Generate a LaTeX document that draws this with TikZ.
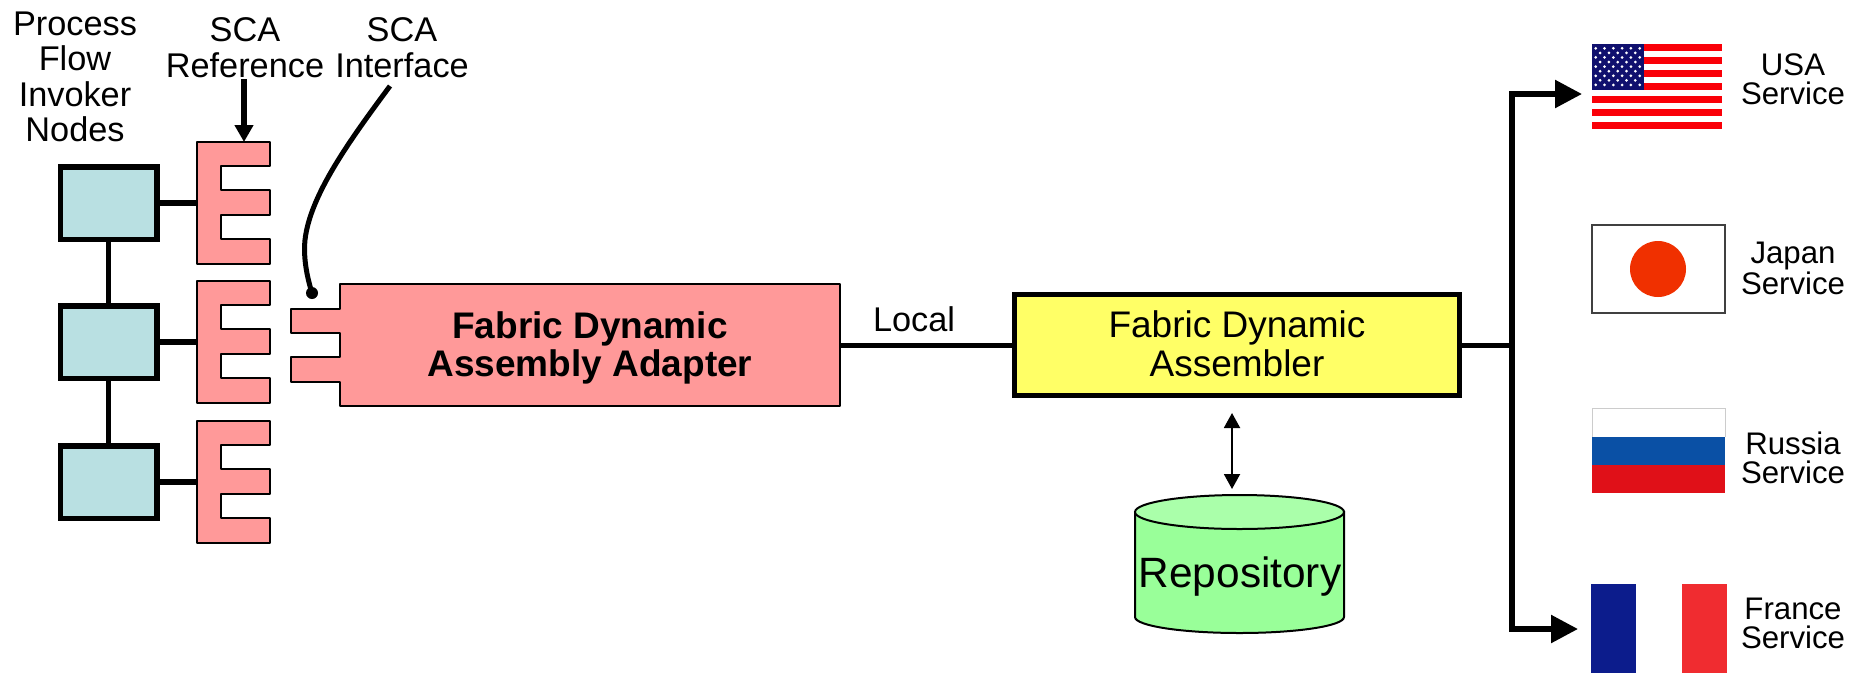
\documentclass[tikz,border=0pt]{standalone}
\usepackage{fontspec}
\setmainfont{Liberation Sans}
\usetikzlibrary{arrows.meta}
\definecolor{boxblue}{HTML}{B9E0E2}
\definecolor{pinkfill}{HTML}{FF9999}
\definecolor{asmyellow}{HTML}{FFFF66}
\definecolor{repogreen}{HTML}{99FF99}
\definecolor{repotop}{HTML}{AAFFAA}
\definecolor{usred}{HTML}{FA0008}
\definecolor{usblue}{HTML}{10106E}
\definecolor{jpred}{HTML}{F03000}
\definecolor{rublue}{HTML}{0A50A5}
\definecolor{rured}{HTML}{E01018}
\definecolor{frblue}{HTML}{0C1C8C}
\definecolor{frred}{HTML}{F02C30}
\tikzset{
  lab/.style={font=\fontsize{34.3}{35.3}\selectfont,align=center,anchor=base,inner sep=0pt},
  svc/.style={font=\fontsize{31.2}{28.3}\selectfont,align=center,anchor=base,inner sep=0pt},
  invoker/.style={draw,line width=5.5pt,fill=boxblue,minimum width=96.5pt,minimum height=72.5pt,inner sep=0pt,outer sep=0pt},
  thick link/.style={line width=5.5pt},
  pinkline/.style={draw,fill=pinkfill,line width=2pt,line join=round},
  eshape/.pic={
    \path[pinkline] (0,0) -- (73,0) -- (73,24) -- (24,24) -- (24,48) -- (73,48) -- (73,73) -- (24,73) -- (24,97) -- (73,97) -- (73,122) -- (0,122) -- cycle;
    \coordinate (-w) at (0,61);
    \coordinate (-n) at (47,0);
  }
}
\begin{document}
\begin{tikzpicture}[x=1pt,y=-1pt]
\useasboundingbox (0,0) rectangle (1849,673);
\fill[white] (0,0) rectangle (1849,673);

% labels
\node[lab] (lproc) at (75,141.5) {Process\\Flow\\Invoker\\Nodes};
\node[lab] (lref) at (245,77) {SCA\\Reference};
\node[lab] (lif) at (402,77) {SCA\\Interface};

% invoker nodes
\node[invoker] (b1) at (108.5,203) {};
\node[invoker] (b2) at (108.5,342) {};
\node[invoker] (b3) at (108.5,482) {};
\pic (e1) at (197,142) {eshape};
\pic (e2) at (197,281) {eshape};
\pic (e3) at (197,421) {eshape};
\draw[thick link] (b1.south) -- (b2.north);
\draw[thick link] (b2.south) -- (b3.north);
\draw[thick link] (b1.east) -- (e1-w);
\draw[thick link] (b2.east) -- (e2-w);
\draw[thick link] (b3.east) -- (e3-w);

% SCA reference arrow
\coordinate (refstart) at (244,79);
\draw[line width=6pt,-{Triangle[length=17pt,width=18pt]}] (refstart) -- (e1-n);

% adapter
\path[pinkline] (340,284) -- (840,284) -- (840,406) -- (340,406) -- (340,382) -- (291,382) -- (291,357) -- (340,357) -- (340,333) -- (291,333) -- (291,309) -- (340,309) -- cycle;
\node[inner sep=0pt,outer sep=0pt,minimum width=500pt,minimum height=122pt] (adapter) at (590,345) {};
\node[font=\fontsize{37}{38}\selectfont\bfseries,align=center,anchor=base,inner sep=0pt] (adaptertext) at (590,376) {Fabric Dynamic\\Assembly Adapter};

% SCA interface callout
\coordinate (ifstart) at (390,86);
\node[circle,fill=black,inner sep=0pt,minimum size=12pt] (ifdot) at (312,293) {};
\draw[line width=5pt] (ifstart) .. controls (350,140) and (310,195) .. (305,240) .. controls (303,260) and (308,280) .. (ifdot.center);

% assembler
\node[draw,line width=5pt,fill=asmyellow,minimum width=445pt,minimum height=101pt,inner sep=0pt,outer sep=0pt] (asm) at (1237,345) {};
\node[font=\fontsize{37}{38.5}\selectfont,align=center,anchor=base,inner sep=0pt] (asmtext) at (1237,376) {Fabric Dynamic\\Assembler};
\draw[line width=5pt] (adapter.east) -- (asm.west);
\node[lab,anchor=base] (local) at (914,331) {Local};

% repository
\path[draw,fill=repogreen,line width=2pt] (1135,512) -- (1135,617) arc[start angle=180,end angle=0,x radius=104.5,y radius=16] -- (1344,512) -- cycle;
\path[draw,fill=repotop,line width=2pt] (1239.5,512) ellipse[x radius=104.5,y radius=17];
\node[font=\fontsize{42.4}{44}\selectfont,anchor=base,inner sep=0pt] (repo) at (1240,587) {Repository};
\coordinate (dbltop) at (1232,413);
\coordinate (dblbot) at (1232,489);
\draw[line width=2pt,{Triangle[length=15pt,width=16pt]}-{Triangle[length=15pt,width=16pt]}] (dbltop) -- (dblbot);

% bus
\coordinate (bus) at (1512,345);
\coordinate (usatip) at (1582,94);
\coordinate (frtip) at (1578,629);
\draw[line width=5pt] (asm.east) -- (bus);
\draw[line width=5.5pt,-{Triangle[length=27pt,width=27pt]}] (bus) |- (usatip);
\draw[line width=5.5pt,-{Triangle[length=27pt,width=27pt]}] (bus) |- (frtip);

% USA flag
\fill[white] (1592,44) rectangle (1722,129);
\foreach \i in {0,2,...,12} {
  \fill[usred] (1592,{44+\i*6.54}) rectangle (1722,{44+(\i+1)*6.54});
}
\fill[usblue] (1592,44) rectangle (1644,{44+7*6.54});
\foreach \r in {0,2,4,6,8} \foreach \c in {0,...,5} {
  \fill[white] ({1595.7+\c*8.8},{48.3+\r*4.58}) circle[radius=1.5];
}
\foreach \r in {1,3,5,7} \foreach \c in {0,...,4} {
  \fill[white] ({1600.1+\c*8.8},{48.3+\r*4.58}) circle[radius=1.5];
}
\node[svc] (lusa) at (1793,104) {USA\\Service};

% Japan flag
\draw[draw=black!75,fill=white,line width=1.5pt] (1592,225) rectangle (1725,313);
\fill[jpred] (1658,269) circle[radius=28];
\node[svc] (ljp) at (1793,294) {Japan\\Service};

% Russia flag
\fill[white] (1592,408) rectangle (1725,437);
\draw[black!20,line width=0.7pt] (1592,437) -- (1592,408) -- (1725,408) -- (1725,437);
\fill[rublue] (1592,437) rectangle (1725,465);
\fill[rured] (1592,465) rectangle (1725,493);
\node[svc] (lru) at (1793,483) {Russia\\Service};

% France flag
\fill[frblue] (1591,584) rectangle (1636,673);
\fill[frred] (1682,584) rectangle (1727,673);
\node[svc] (lfr) at (1793,648) {France\\Service};
\end{tikzpicture}
\end{document}
